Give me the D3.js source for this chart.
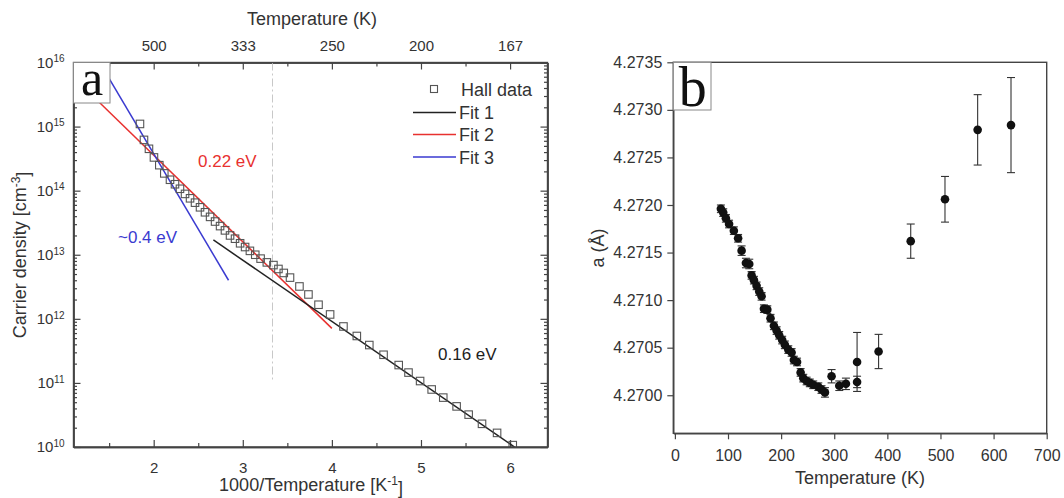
<!DOCTYPE html>
<html><head><meta charset="utf-8">
<script src="https://cdn.jsdelivr.net/npm/d3@7"></script>
<style>body{margin:0;background:#fff} text{font-family:"Liberation Sans",Arial,sans-serif;fill:#333}</style>
</head><body><svg id="c" width="1064" height="498" style="display:block;background:#fff"></svg>
<script>
// ---------- Panel a data ----------
const hallInvT = [1.846,1.891,1.947,2.003,2.063,2.119,2.183,2.239,2.295,2.352,2.408,2.464,2.520,2.576,2.633,2.689,2.745,2.800,2.857,2.913,2.970,3.026,3.080,3.140,3.200,3.270,3.344,3.400,3.460,3.530,3.636,3.737,3.850,3.980,4.130,4.280,4.420,4.580,4.750,4.860,4.990,5.120,5.250,5.400,5.535,5.685,5.854,6.030];
const hallN = [1.10e15,6.2e14,4.5e14,3.3e14,2.5e14,1.86e14,1.48e14,1.26e14,1.07e14,8.9e13,7.6e13,6.5e13,5.5e13,4.6e13,3.9e13,3.3e13,2.8e13,2.4e13,2.0e13,1.78e13,1.51e13,1.32e13,1.15e13,1.0e13,8.7e12,7.6e12,6.9e12,6.0e12,5.2e12,4.4e12,3.2e12,2.4e12,1.66e12,1.17e12,7.6e11,5.4e11,3.9e11,2.75e11,1.9e11,1.45e11,1.07e11,7.9e10,5.9e10,4.3e10,3.2e10,2.3e10,1.66e10,1.07e10];
const fit1InvT = [2.67, 6.05], fit1N = [1.7e13, 1.0e10];
const fit2InvT = [1.10, 4.00], fit2N = [5.9e15, 7.1e11];
const fit3InvT = [1.10, 2.84], fit3N = [4.9e16, 4.0e12];
const bottomTicksA = [2, 3, 4, 5, 6];
const minorTicksA = [1.5, 2.5, 3.5, 4.5, 5.5];
const topTickLabels = ["500", "333", "250", "200", "167"];
const decadesA = [1e10, 1e11, 1e12, 1e13, 1e14, 1e15, 1e16];
const legendNames = ["Hall data", "Fit 1", "Fit 2", "Fit 3"];
const roomTempInvT = 1000 / 300;

// ---------- Panel b data ----------
const tempB = [86.6,91,96,102,111,119,125.6,133.7,140,144.4,148.8,153.8,158.8,163.2,167.6,174,180,186.4,191.5,196.4,202,207,213.5,219.7,224,230,236.7,241.7,248,254,260.5,270,276,282.5,295,309.5,322,343,343,383.5,444,508.5,570,632.8];
const latticeB = [4.27196,4.27192,4.27186,4.27180,4.27173,4.27165,4.27152,4.27139,4.27138,4.27126,4.27121,4.27115,4.27109,4.27104,4.27091,4.27090,4.27081,4.27073,4.27068,4.27063,4.27058,4.27053,4.27048,4.27045,4.27037,4.27035,4.27024,4.27018,4.27015,4.27013,4.27011,4.27009,4.27006,4.27003,4.27020,4.27010,4.27012,4.27014,4.27035,4.27046,4.27162,4.27206,4.27279,4.27284];
const errB = [0.00004,0.00004,0.00004,0.00004,0.00004,0.00004,0.00005,0.00005,0.00005,0.00004,0.00004,0.00004,0.00004,0.00004,0.00004,0.00004,0.00004,0.00004,0.00004,0.00004,0.00004,0.00004,0.00004,0.00004,0.00004,0.00004,0.00004,0.00004,0.00004,0.00004,0.00004,0.00004,0.00004,0.00005,0.00007,0.00005,0.00006,0.00006,0.00031,0.00018,0.00018,0.00024,0.00037,0.00050];
const xTicksB = [0, 100, 200, 300, 400, 500, 600, 700];
const yTicksB = [4.2700, 4.2705, 4.2710, 4.2715, 4.2720, 4.2725, 4.2730, 4.2735];

const svg = d3.select("#c");
const FS = 15;

// ================= Panel a =================
const A = {l: 73.5, r: 547.5, t: 62.5, b: 447};
const xA = d3.scaleLinear().domain([1.1, 6.42]).range([A.l, A.r]);
const yA = d3.scaleLog().domain([1e10, 1e16]).range([A.b, A.t]);
const gA = svg.append("g");
svg.append("defs").append("clipPath").attr("id", "clipA")
  .append("rect").attr("x", A.l).attr("y", A.t).attr("width", A.r - A.l).attr("height", A.b - A.t);

// minor log ticks
const minorLog = [];
for (let e = 10; e < 16; e++) for (let m = 2; m <= 9; m++) minorLog.push(m * Math.pow(10, e));

function styleAxis(g) {
  g.selectAll("path.domain").attr("stroke", "#444").attr("stroke-width", 1.4);
  g.selectAll(".tick line").attr("stroke", "#444").attr("stroke-width", 1.2);
  g.selectAll(".tick text").attr("font-size", FS).attr("fill", "#333").attr("font-family", '"Liberation Sans",Arial,sans-serif');
}

// bottom
gA.append("g").attr("transform", `translate(0,${A.b})`)
  .call(d3.axisBottom(xA).tickValues(bottomTicksA).tickSize(-7).tickSizeOuter(0).tickPadding(15).tickFormat(d3.format("d"))).call(styleAxis);
gA.append("g").attr("transform", `translate(0,${A.b})`)
  .call(d3.axisBottom(xA).tickValues(minorTicksA).tickSize(-4).tickSizeOuter(0).tickFormat("")).call(styleAxis);
// top
gA.append("g").attr("transform", `translate(0,${A.t})`)
  .call(d3.axisTop(xA).tickValues(bottomTicksA).tickSize(-7).tickSizeOuter(0).tickPadding(12).tickFormat((d, i) => topTickLabels[i])).call(styleAxis);
gA.append("g").attr("transform", `translate(0,${A.t})`)
  .call(d3.axisTop(xA).tickValues(minorTicksA).tickSize(-4).tickSizeOuter(0).tickFormat("")).call(styleAxis);
// left
const leftAx = gA.append("g").attr("transform", `translate(${A.l},0)`)
  .call(d3.axisLeft(yA).tickValues(decadesA).tickSize(-7).tickSizeOuter(0).tickPadding(9).tickFormat(d => d)).call(styleAxis);
leftAx.selectAll(".tick text").each(function(d) {
  const t = d3.select(this); t.text(null);
  t.append("tspan").text("10");
  t.append("tspan").attr("dy", "-0.55em").attr("font-size", 10).text(Math.round(Math.log10(d)));
});
gA.append("g").attr("transform", `translate(${A.l},0)`)
  .call(d3.axisLeft(yA).tickValues(minorLog).tickSize(-3.5).tickSizeOuter(0).tickFormat("")).call(styleAxis);
// right
gA.append("g").attr("transform", `translate(${A.r},0)`)
  .call(d3.axisRight(yA).tickValues(decadesA).tickSize(-7).tickSizeOuter(0).tickFormat("")).call(styleAxis);
gA.append("g").attr("transform", `translate(${A.r},0)`)
  .call(d3.axisRight(yA).tickValues(minorLog).tickSize(-3.5).tickSizeOuter(0).tickFormat("")).call(styleAxis);

// room temperature line
gA.append("line").attr("x1", xA(roomTempInvT)).attr("x2", xA(roomTempInvT))
  .attr("y1", A.t).attr("y2", yA(1.05e11))
  .attr("stroke", "#c8c8c8").attr("stroke-width", 1).attr("stroke-dasharray", "8,3,2,3");

// fits
const lineA = d3.line().x(d => xA(d[0])).y(d => yA(d[1]));
const plotA = gA.append("g").attr("clip-path", "url(#clipA)");
const fits = [
  {x: fit2InvT, n: fit2N, c: "#e8312f"},
  {x: fit3InvT, n: fit3N, c: "#3a3ad0"},
  {x: fit1InvT, n: fit1N, c: "#222"}
];
fits.forEach(f => plotA.append("path").datum(f.x.map((v, i) => [v, f.n[i]]))
  .attr("d", lineA).attr("fill", "none").attr("stroke", f.c).attr("stroke-width", 1.5));

// Hall data squares
const sq = 7.5;
plotA.selectAll("rect.hall").data(hallInvT.map((v, i) => [v, hallN[i]])).join("rect")
  .attr("class", "hall")
  .attr("x", d => xA(d[0]) - sq / 2).attr("y", d => yA(d[1]) - sq / 2)
  .attr("width", sq).attr("height", sq)
  .attr("fill", "none").attr("stroke", "#555").attr("stroke-width", 1.1);

// frame redraw
gA.append("rect").attr("x", A.l).attr("y", A.t).attr("width", A.r - A.l).attr("height", A.b - A.t)
  .attr("fill", "none").attr("stroke", "#444").attr("stroke-width", 1.4);

// label box a
gA.append("rect").attr("x", A.l).attr("y", A.t).attr("width", 36.5).attr("height", 40.5)
  .attr("fill", "#fff").attr("stroke", "#888").attr("stroke-width", 1);
gA.append("text").attr("x", A.l + 18.5).attr("y", 95).attr("text-anchor", "middle")
  .attr("font-size", 50).style("font-family", '"Liberation Serif",serif').style("fill", "#111").text("a");

// annotations
gA.append("text").attr("x", 198).attr("y", 167).attr("font-size", 17).style("fill", "#e8312f").text("0.22 eV");
gA.append("text").attr("x", 118).attr("y", 243).attr("font-size", 17).style("fill", "#3a3ad0").text("~0.4 eV");
gA.append("text").attr("x", 438).attr("y", 359.5).attr("font-size", 17).style("fill", "#222").text("0.16 eV");

// legend
const legY = [89, 112.5, 134.5, 157];
const legColors = [null, "#222", "#e8312f", "#3a3ad0"];
const leg = gA.append("g");
legendNames.forEach((name, i) => {
  if (i === 0) {
    leg.append("rect").attr("x", 434 - 3.5).attr("y", legY[i] - 3.5).attr("width", 7).attr("height", 7)
      .attr("fill", "none").attr("stroke", "#555").attr("stroke-width", 1.1);
  } else {
    leg.append("line").attr("x1", 413).attr("x2", 456).attr("y1", legY[i]).attr("y2", legY[i])
      .attr("stroke", legColors[i]).attr("stroke-width", 1.5);
  }
  leg.append("text").attr("x", i === 0 ? 461 : 459).attr("y", legY[i] + 6.5).attr("font-size", 18).text(name);
});

// titles
gA.append("text").attr("x", 312).attr("y", 25).attr("text-anchor", "middle").attr("font-size", 18).text("Temperature (K)");
const xt = gA.append("text").attr("x", 311).attr("y", 491).attr("text-anchor", "middle").attr("font-size", 18);
xt.append("tspan").text("1000/Temperature [K");
xt.append("tspan").attr("dy", "-0.5em").attr("font-size", 12).text("-1");
xt.append("tspan").attr("dy", "0.5em").text("]");
const yt = gA.append("text").attr("transform", "translate(26,255) rotate(-90)").attr("text-anchor", "middle").attr("font-size", 18);
yt.append("tspan").text("Carrier density [cm");
yt.append("tspan").attr("dy", "-0.5em").attr("font-size", 12).text("-3");
yt.append("tspan").attr("dy", "0.5em").text("]");

// ================= Panel b =================
const B = {l: 673.3, r: 1046.7, t: 62.3, b: 433.3};
const xB = d3.scaleLinear().domain([-3, 700]).range([B.l, B.r]);
const yB = d3.scaleLinear().domain([4.2696, 4.2735]).range([B.b, B.t]);
const gB = svg.append("g");

gB.append("g").attr("transform", `translate(0,${B.b})`)
  .call(d3.axisBottom(xB).tickValues(xTicksB).tickSize(6).tickSizeOuter(0).tickPadding(10).tickFormat(d3.format("d"))).call(styleAxis);
gB.append("g").attr("transform", `translate(${B.l},0)`)
  .call(d3.axisLeft(yB).tickValues(yTicksB).tickSize(6).tickSizeOuter(0).tickPadding(5).tickFormat(d3.format(".4f"))).call(styleAxis);
gB.selectAll(".tick text").attr("font-size", 16);
gB.append("rect").attr("x", B.l).attr("y", B.t).attr("width", B.r - B.l).attr("height", B.b - B.t)
  .attr("fill", "none").attr("stroke", "#444").attr("stroke-width", 1.4);

const ptsB = tempB.map((t, i) => ({t, a: latticeB[i], e: errB[i]}));
const eb = gB.append("g").attr("stroke", "#333").attr("stroke-width", 1.1);
ptsB.forEach(p => {
  const x = xB(p.t), y1 = yB(p.a - p.e), y2 = yB(p.a + p.e);
  eb.append("line").attr("x1", x).attr("x2", x).attr("y1", y1).attr("y2", y2);
  eb.append("line").attr("x1", x - 4).attr("x2", x + 4).attr("y1", y1).attr("y2", y1);
  eb.append("line").attr("x1", x - 4).attr("x2", x + 4).attr("y1", y2).attr("y2", y2);
});
gB.selectAll("circle.pt").data(ptsB).join("circle").attr("class", "pt")
  .attr("cx", d => xB(d.t)).attr("cy", d => yB(d.a)).attr("r", 4.3).attr("fill", "#111");

// label box b
gB.append("rect").attr("x", B.l).attr("y", B.t).attr("width", 37.7).attr("height", 47.7)
  .attr("fill", "#fff").attr("stroke", "#888").attr("stroke-width", 1);
gB.append("text").attr("x", B.l + 19.5).attr("y", 106).attr("text-anchor", "middle")
  .attr("font-size", 56).style("font-family", '"Liberation Serif",serif').style("fill", "#111").text("b");

gB.append("text").attr("x", 860).attr("y", 484).attr("text-anchor", "middle").attr("font-size", 18).text("Temperature (K)");
gB.append("text").attr("transform", "translate(604,248) rotate(-90)").attr("text-anchor", "middle").attr("font-size", 18).text("a (Å)");
</script></body></html>
